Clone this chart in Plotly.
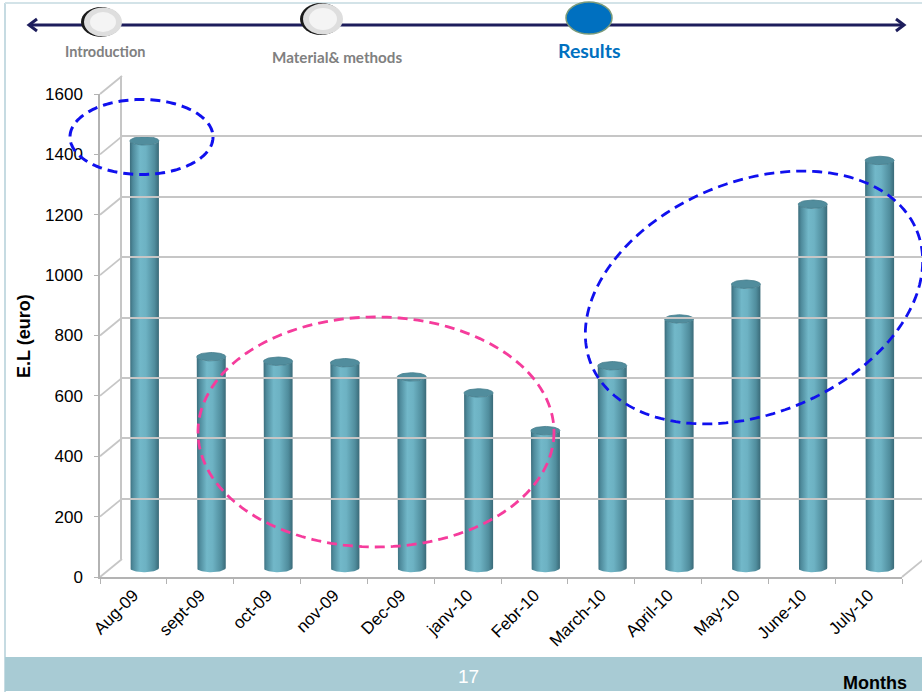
import numpy as np
import plotly.graph_objects as go

# ---- data -------------------------------------------------------------
months = ["Aug-09", "sept-09", "oct-09", "nov-09", "Dec-09", "janv-10",
          "Febr-10", "March-10", "April-10", "May-10", "June-10", "July-10"]
loss_euro = [1415, 700, 685, 680, 633, 580, 455, 670, 825, 940, 1205, 1350]
y_ticks = [0, 200, 400, 600, 800, 1000, 1200, 1400, 1600]
steps = ["Introduction", "Material& methods", "Results"]

# ---- page geometry (pixels) ----------------------------------------------
W, H = 922, 694
FX0, FX1 = 100, 902      # front plane, left/right
FY0, FY1 = 577, 94       # front plane, value 0 / value 1600
DX, DY = 22, 18          # depth of the 3-D box
YMAX = 1600
PPV = (FY0 - FY1) / YMAX            # pixels per euro
CAT_W = (FX1 - FX0) / len(months)   # pixels per category


def px(x):
    return x / W


def py(y):
    return 1 - y / H


AXIS_GREY = "#b3b3b3"
GRID_GREY = "#c6c6c6"
FONT = "Arial, Liberation Sans, sans-serif"
HEAD_FONT = "Lato, Open Sans, sans-serif"

fig = go.Figure()

# ---- front axes (labels, ticks) -------------------------------------------
fig.add_trace(go.Scatter(x=months, y=[0] * len(months), mode="markers",
                         marker=dict(size=0.1, opacity=0), hoverinfo="skip",
                         showlegend=False))

# ---- back wall (grid) ---------------------------------------------------
fig.add_trace(go.Scatter(x=[None], y=[None], xaxis="x3", yaxis="y3",
                         showlegend=False, hoverinfo="skip"))

# ---- cylinders, on a plane half-way into the box -------------------------
bar_w = 0.434
rx = bar_w / 2
ry = 4.2 / PPV                      # ellipse half-height in euro units
t = np.linspace(0, np.pi, 40)
body_scale = [[0.0, "#3b6c7b"], [0.1, "#4e8a9b"], [0.35, "#72b8c9"],
              [0.55, "#6db2c3"], [0.85, "#508d9d"], [1.0, "#3a6a78"]]
for i, v in enumerate(loss_euro):
    # body: left edge down, rounded bottom, right edge up, rounded top
    bx = np.concatenate([[i - rx], i - rx * np.cos(t), [i + rx],
                         i + rx * np.cos(t)])
    by = np.concatenate([[v], -ry * np.sin(t), [v], v - ry * np.sin(t)])
    fig.add_trace(go.Scatter(
        x=bx, y=by, xaxis="x2", yaxis="y2", mode="lines",
        line=dict(width=0), fill="toself",
        fillgradient=dict(type="horizontal", colorscale=body_scale),
        hoverinfo="skip", showlegend=False))
    # top cap
    tt = np.linspace(0, 2 * np.pi, 60)
    fig.add_trace(go.Scatter(
        x=i + rx * np.cos(tt), y=v + ry * np.sin(tt), xaxis="x2", yaxis="y2",
        mode="lines", line=dict(width=0.8, color="#447c8b"), fill="toself",
        fillcolor="#518d9d", hoverinfo="skip", showlegend=False))

shapes = []

# diagonal grid connectors from the front axis to the back wall
for v in y_ticks:
    y_front = FY0 - v * PPV
    shapes.append(dict(type="line", xref="paper", yref="paper",
                       x0=px(FX0), y0=py(y_front),
                       x1=px(FX0 + DX), y1=py(y_front - DY),
                       line=dict(color=GRID_GREY, width=1.8), layer="below"))
# right edge of the floor
shapes.append(dict(type="line", xref="paper", yref="paper",
                   x0=px(FX1), y0=py(FY0), x1=px(FX1 + DX), y1=py(FY0 - DY),
                   line=dict(color=GRID_GREY, width=1.8), layer="below"))

# slide frame and footer band
shapes.append(dict(type="line", xref="paper", yref="paper",
                   x0=px(5), y0=py(3), x1=px(5), y1=py(692),
                   line=dict(color="#c6dbe2", width=2), layer="below"))
shapes.append(dict(type="line", xref="paper", yref="paper",
                   x0=px(5), y0=py(3), x1=1, y1=py(3),
                   line=dict(color="#d3e3e8", width=2), layer="below"))
shapes.append(dict(type="rect", xref="paper", yref="paper",
                   x0=px(5), y0=py(657), x1=1, y1=py(691),
                   fillcolor="#a8cbd4", line=dict(width=0), layer="below"))

# navigation arrow
NAV = "#1d1d5c"
shapes.append(dict(type="line", xref="paper", yref="paper",
                   x0=px(29), y0=py(25), x1=px(904), y1=py(25),
                   line=dict(color=NAV, width=3)))
for tip, back in ((29, 37), (904, 896)):
    shapes.append(dict(type="path", xref="paper", yref="paper",
                       path=f"M {px(back)} {py(19)} L {px(tip)} {py(25)} "
                            f"L {px(back)} {py(31)}",
                       line=dict(color=NAV, width=3)))


def ellipse(cx, cy, rx_, ry_, **kw):
    return dict(type="circle", xref="paper", yref="paper",
                x0=px(cx - rx_), x1=px(cx + rx_),
                y0=py(cy + ry_), y1=py(cy - ry_), **kw)


# grey step markers (dark rim on the left, pale face)
for cx, cy, rxx, ryy in ((102, 22, 20, 15), (322, 19, 21, 16)):
    shapes.append(ellipse(cx - 1, cy, rxx, ryy, fillcolor="#1a1a1a",
                          line=dict(width=0)))
    shapes.append(ellipse(cx + 1, cy, rxx - 1, ryy - 0.5,
                          fillcolor="#dedede", line=dict(width=0)))
    shapes.append(ellipse(cx + 1, cy, rxx - 7, ryy - 5,
                          fillcolor="#f4f4f4", line=dict(width=0)))
# current step marker
shapes.append(ellipse(589, 18, 23, 16, fillcolor="#0070c0",
                      line=dict(color="#7a9a7a", width=1.5)))


# dashed highlight rings
def ring_path(cx, cy, a, b, ang_deg):
    th = np.linspace(0, 2 * np.pi, 180)
    ang = np.radians(ang_deg)
    xs = cx + a * np.cos(th) * np.cos(ang) + b * np.sin(th) * np.sin(ang)
    ys = cy - a * np.cos(th) * np.sin(ang) + b * np.sin(th) * np.cos(ang)
    pts = [f"{px(x):.5f} {py(y):.5f}" for x, y in zip(xs, ys)]
    return "M " + " L ".join(pts) + " Z"


shapes.append(dict(type="path", xref="paper", yref="paper",
                   path=ring_path(141.5, 137, 71.5, 37.5, 0),
                   line=dict(color="#1010ee", width=3, dash="10px,6px")))
shapes.append(dict(type="path", xref="paper", yref="paper",
                   path=ring_path(376, 432, 178, 115, 0),
                   line=dict(color="#f53c9c", width=2.8, dash="10px,6px")))
shapes.append(dict(type="path", xref="paper", yref="paper",
                   path=ring_path(754, 297.5, 176, 116, 22.3),
                   line=dict(color="#1010ee", width=2.8, dash="10px,6px")))


def label(text, x, y, size, color, angle=0, xanchor="center", family=FONT):
    return dict(text=text, x=px(x), y=py(y), xref="paper", yref="paper",
                xanchor=xanchor, yanchor="middle", textangle=angle,
                showarrow=False,
                font=dict(family=family, size=size, color=color))


annotations = [
    label("<b>E.L (euro)</b>", 24, 336, 18, "#000", angle=-90),
    label("<b>Months</b>", 909, 683, 18, "#000", xanchor="right"),
    label("17", 469, 676, 19, "#ffffff"),
]
for text, x, y, size, color in ((steps[0], 105, 52, 14.5, "#808080"),
                                (steps[1], 337, 57, 15.2, "#808080"),
                                (steps[2], 589, 51, 19.5, "#0070c0")):
    annotations.append(label(f"<b>{text}</b>", x, y, size, color,
                             family=HEAD_FONT))

# axis-2 range padded below zero so the rounded bottoms are not clipped
PAD = 40
x3_right = (W - (FX0 + DX)) / CAT_W - 0.5

fig.update_layout(
    width=W, height=H, autosize=False,
    margin=dict(l=0, r=0, t=0, b=0, pad=0, autoexpand=False),
    paper_bgcolor="#ffffff", plot_bgcolor="rgba(0,0,0,0)",
    showlegend=False, hovermode=False,
    shapes=shapes, annotations=annotations,
    xaxis=dict(domain=[px(FX0), px(FX1)], type="category",
               categoryorder="array", categoryarray=months,
               range=[-0.5, len(months) - 0.5],
               tickson="boundaries", ticks="outside", ticklen=5,
               tickcolor=AXIS_GREY, showline=True, linecolor=AXIS_GREY,
               linewidth=1.5, showgrid=False, zeroline=False,
               tickangle=-45, tickfont=dict(family=FONT, size=17, color="#000"),
               anchor="y", fixedrange=True, automargin=False),
    yaxis=dict(domain=[py(FY0), py(FY1)], range=[0, YMAX],
               tickvals=y_ticks, ticks="outside", ticklen=4,
               tickcolor=AXIS_GREY, showline=True, linecolor=AXIS_GREY,
               linewidth=1.5, showgrid=False, zeroline=False,
               ticklabelstandoff=8,
               tickfont=dict(family=FONT, size=17, color="#000"),
               anchor="x", fixedrange=True, automargin=False),
    xaxis2=dict(domain=[px(FX0 + DX / 2), px(FX1 + DX / 2)],
                range=[-0.5, len(months) - 0.5], visible=False,
                anchor="y2", fixedrange=True, automargin=False),
    yaxis2=dict(domain=[py(FY0 - DY / 2 + PAD * PPV), py(FY1 - DY / 2)],
                range=[-PAD, YMAX], visible=False, anchor="x2",
                fixedrange=True, automargin=False),
    xaxis3=dict(domain=[px(FX0 + DX), 1.0], range=[-0.5, x3_right],
                showgrid=False, zeroline=False, showticklabels=False,
                ticks="", showline=False, anchor="y3", fixedrange=True,
                automargin=False),
    yaxis3=dict(domain=[py(FY0 - DY), py(FY1 - DY)], range=[0, YMAX],
                tickvals=y_ticks, showgrid=True, gridcolor=GRID_GREY,
                gridwidth=1.8, zeroline=False, showticklabels=False,
                ticks="", showline=True, linecolor=GRID_GREY, linewidth=1.8,
                anchor="x3", fixedrange=True, automargin=False),
)

# the page body gets no default margin so the figure fills the window
fig.write_html(
    "out.html",
    post_script="document.body.style.margin='0';"
                "document.body.style.overflow='hidden';",
)
